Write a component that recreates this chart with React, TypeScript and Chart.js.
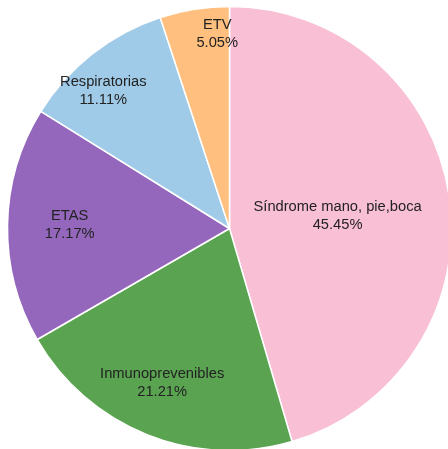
import React, { useEffect, useRef } from "react";
import { Chart, registerables } from "chart.js";

Chart.register(...registerables);

const categories = ["Síndrome mano, pie,boca", "Inmunoprevenibles", "ETAS", "Respiratorias", "ETV"];
const values = [45, 21, 17, 11, 5];
const colors = ["#f9bfd4", "#5aa351", "#9467bd", "#a0cbe8", "#ffbf7f"];

// label placement (fraction of radius, angle nudge in degrees) — styling only
const labelRadius = [0.49, 0.76, 0.72, 0.84, 0.88];
const labelAngleNudge = [1.8, 1.7, 0.5, -4.4, 5.5];

const labelPlugin = {
  id: "sliceLabels",
  afterDatasetsDraw(chart: any) {
    const ctx = chart.ctx;
    const meta = chart.getDatasetMeta(0);
    const data = chart.data.datasets[0].data as number[];
    const total = data.reduce((a, b) => a + b, 0);
    ctx.save();
    ctx.font = "14.7px 'Liberation Sans', Arial, sans-serif";
    ctx.fillStyle = "#222";
    ctx.textAlign = "center";
    ctx.textBaseline = "middle";
    meta.data.forEach((arc: any, i: number) => {
      const { x, y, startAngle, endAngle, outerRadius } = arc.getProps(
        ["x", "y", "startAngle", "endAngle", "outerRadius"],
        true
      );
      const mid = (startAngle + endAngle) / 2 + (labelAngleNudge[i] * Math.PI) / 180;
      const r = outerRadius * labelRadius[i];
      const cx = x + Math.cos(mid) * r;
      const cy = y + Math.sin(mid) * r;
      const pct = ((data[i] / total) * 100).toFixed(2) + "%";
      ctx.fillText(chart.data.labels[i], cx, cy - 9);
      ctx.fillText(pct, cx, cy + 9);
    });
    ctx.restore();
  },
};

export default function App() {
  const ref = useRef<HTMLCanvasElement | null>(null);
  useEffect(() => {
    document.body.style.margin = "0";
    document.body.style.overflow = "hidden";
    const chart = new Chart(ref.current!, {
      type: "pie",
      data: {
        labels: categories,
        datasets: [
          {
            data: values,
            backgroundColor: colors,
            borderColor: "#ffffff",
            borderWidth: 1.5,
            clip: false as any,
          } as any,
        ],
      },
      options: {
        animation: false,
        responsive: false,
        radius: 222,
        layout: { padding: { left: 11, top: 8, right: 0, bottom: 0 } },
        plugins: {
          legend: { display: false },
          tooltip: { enabled: false },
        },
      } as any,
      plugins: [labelPlugin],
    });
    return () => chart.destroy();
  }, []);
  return (
    <div style={{ width: 448, height: 449 }}>
      <canvas ref={ref} width={448} height={449} style={{ display: "block" }} />
    </div>
  );
}
